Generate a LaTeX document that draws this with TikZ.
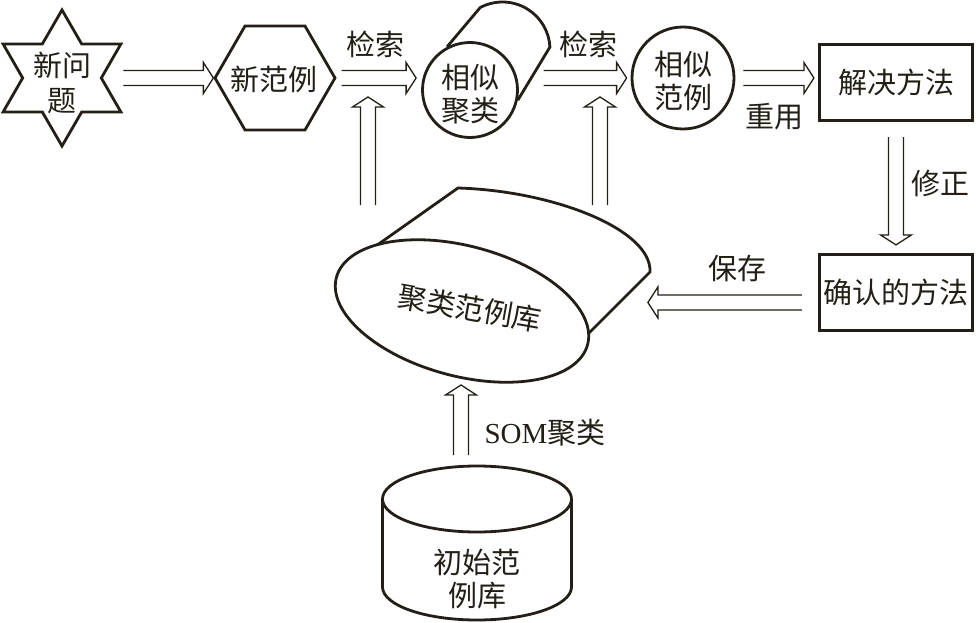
\documentclass[tikz,border=0pt]{standalone}
\usepackage{fontspec}
\setmainfont{Liberation Serif}
\newfontfamily\cjk{Noto Sans CJK SC}
\usetikzlibrary{shapes.geometric,calc}
\definecolor{ink}{RGB}{35,31,22}
\tikzset{
  shapeline/.style={draw=ink, line width=2.8pt},
  boxline/.style={draw=ink, line width=3.2pt, rectangle, minimum width=153pt, minimum height=76pt, inner sep=0pt},
  lbl/.style={font=\cjk\fontsize{29}{33}\selectfont, text=ink, inner sep=0pt, align=center},
  dblarrow/.style={draw=ink, line width=1.3pt, line join=miter, to path={
    ($(\tikztostart)!7.5pt!90:(\tikztotarget)$)
    -- ($($(\tikztotarget)!10pt!(\tikztostart)$)!7.5pt!90:(\tikztotarget)$)
    -- ($($(\tikztotarget)!10pt!(\tikztostart)$)!15.5pt!90:(\tikztotarget)$)
    -- (\tikztotarget)
    -- ($($(\tikztotarget)!10pt!(\tikztostart)$)!15.5pt!-90:(\tikztotarget)$)
    -- ($($(\tikztotarget)!10pt!(\tikztostart)$)!7.5pt!-90:(\tikztotarget)$)
    -- ($(\tikztostart)!7.5pt!-90:(\tikztotarget)$)
  }},
}
\begin{document}
\begin{tikzpicture}[x=1pt,y=-1pt]
\useasboundingbox (0,0) rectangle (976,623);

% new problem (star)
\node[star, star points=6, star point ratio=1.73, minimum size=136pt, inner sep=0pt, shapeline] (star) at (62,78) {};
\node[lbl] (startxt) at (62,83) {新问\\[2pt]题};

% new case (hexagon)
\node[regular polygon, regular polygon sides=6, minimum size=120pt, inner sep=0pt, shapeline] (hex) at (275,78) {};
\node[lbl] (hextxt) at (274,79) {新范例};

% similar cluster (tilted cylinder)
\coordinate (scb) at (502.5,49.5);
\node[circle, minimum size=95pt, inner sep=0pt, shapeline] (sc) at (470,90) {};
\draw[shapeline] (sc.118) -- ($(scb)+(118:47.5pt)$) arc[start angle=118, end angle=3, radius=47.5pt] -- (sc.-12);
\node[lbl] (sctxt) at (470,94) {相似\\聚类};

% similar case (circle)
\node[circle, minimum size=102pt, inner sep=0pt, shapeline] (sf) at (683,78) {};
\node[lbl] (sftxt) at (683,81) {相似\\范例};

% solution boxes
\node[boxline, lbl] (jj) at (896,82.5) {解决方法};
\node[boxline, lbl] (qr) at (896,292.5) {确认的方法};

% clustered case base
\draw[shapeline, line join=miter] (356,260) -- (458,188) .. controls (555,191) and (652,230) .. (650,272) -- (580,342);
\node[ellipse, shapeline, fill=white, minimum width=260pt, minimum height=130pt, inner sep=0pt, rotate=-15] (cdb) at (462,311) {};
\node[lbl, rotate=-10] (cdbtxt) at (470,308) {聚类范例库};

% initial case base (cylinder)
\draw[shapeline] (382.5,499) -- (382.5,587) arc[start angle=180, end angle=360, x radius=94.5pt, y radius=33pt] -- (571.5,499);
\draw[shapeline] (477,499) ellipse [x radius=94.5pt, y radius=33pt];
\node[lbl] (idb) at (477,579) {初始范\\例库};

% free arrow ends
\coordinate (up1s) at (368,205);
\coordinate (up1e) at (368,97);
\coordinate (up2s) at (600,205);
\coordinate (up2e) at (600,97);
\coordinate (soms) at (461,455);
\coordinate (some) at (461,385);

% arrows
\draw[dblarrow] (star.30 |- star.center) to (hex.west);
\draw[dblarrow] ($(hex.east)+(5,0)$) to ($(hex.east -| sc.west)+(-5,0)$);
\draw[dblarrow] ($(sf.west)+(-87,0)$) to ($(sf.west)+(-4,0)$);
\draw[dblarrow] ($(sf.east)+(8,0)$) to ($(sf.east -| jj.west)+(-4,0)$);
\draw[dblarrow] ($(jj.south)+(0,15)$) to ($(qr.north)+(0,-8)$);
\draw[dblarrow] ($(qr.west)+(-16,10)$) to ($(qr.west)+(-170,10)$);
\draw[dblarrow] (up1s) to (up1e);
\draw[dblarrow] (up2s) to (up2e);
\draw[dblarrow] (soms) to (some);

% labels
\node[lbl] (l1) at (375,44) {检索};
\node[lbl] (l2) at (588,44) {检索};
\node[lbl] (l3) at (774,117) {重用};
\node[lbl] (l4) at (940,183) {修正};
\node[lbl] (l5) at (737,268) {保存};
\node[lbl] (l6) at (545,433) {{\rmfamily SOM}聚类};
\end{tikzpicture}
\end{document}
